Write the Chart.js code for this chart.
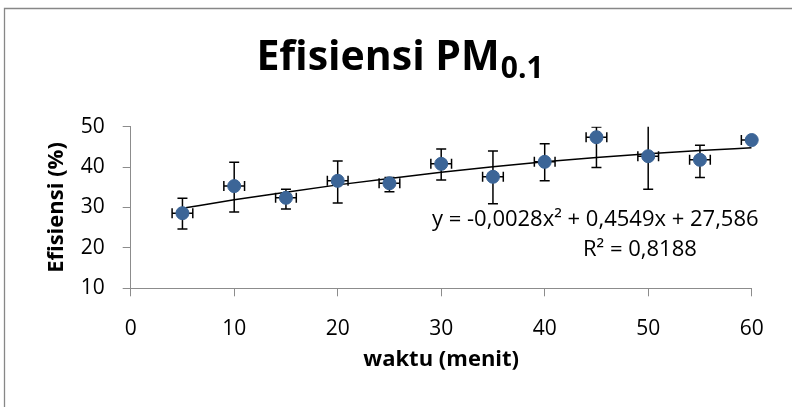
<!DOCTYPE html>
<html>
<head>
<meta charset="utf-8">
<script src="https://cdn.jsdelivr.net/npm/chart.js@4.4.1/dist/chart.umd.min.js"></script>
<style>
html,body{margin:0;padding:0;background:#fff;overflow:hidden}
#wrap{width:792px;height:407px;position:relative}
</style>
</head>
<body>
<div id="wrap"><canvas id="c"></canvas></div>
<script>
// ---- data ----
const waktu      = [5, 10, 15, 20, 25, 30, 35, 40, 45, 50, 55, 60];
const efisiensi  = [28.6, 35.3, 32.4, 36.6, 36.0, 40.8, 37.6, 41.3, 47.4, 42.7, 41.8, 46.7];
const errPlus    = [3.7, 5.9, 2.1, 4.9, 1.4, 3.7, 6.4, 4.5, 2.5, 8.2, 3.6, 0.5];
const errMinus   = [3.9, 6.4, 2.8, 5.5, 2.1, 4.0, 6.7, 4.7, 7.5, 8.2, 4.4, 0.5];
const errWaktu   = [1, 1, 1, 1, 1, 1, 1, 1, 1, 1, 1, 1];
const trendWaktu = [5, 10, 15, 20, 25, 30, 35, 40, 45, 50, 55, 60];
const trendEfis  = [29.8, 31.9, 33.8, 35.6, 37.2, 38.7, 40.1, 41.3, 42.4, 43.3, 44.1, 44.8];
const xTicks     = [0, 10, 20, 30, 40, 50, 60];
const yTicks     = [10, 20, 30, 40, 50];
const titleMain  = 'Efisiensi PM';
const titleSub   = '0.1';
const xTitle     = 'waktu (menit)';
const yTitle     = 'Efisiensi (%)';
const eqLine1    = 'y = -0,0028x² + 0,4549x + 27,586';
const eqLine2    = 'R² = 0,8188';

const FONT = "'Open Sans', sans-serif";
const AXIS_GRAY = '#8c8c8c';

const scatterPts = waktu.map((x, i) => ({x: x, y: efisiensi[i]}));
const trendPts = trendWaktu.map((x, i) => ({x: x, y: trendEfis[i]}));

const errorBars = {
  id: 'errorBars',
  beforeDatasetDraw(chart, args) {
    if (args.index !== 1) return;
    const {ctx, chartArea, scales} = chart;
    const xs = scales.x, ys = scales.y;
    ctx.save();
    ctx.beginPath();
    ctx.rect(chartArea.left, chartArea.top, chartArea.right - chartArea.left, chartArea.bottom - chartArea.top);
    ctx.clip();
    ctx.strokeStyle = '#000';
    ctx.lineWidth = 1.5;
    const cap = 5;
    waktu.forEach((xv, i) => {
      const px = xs.getPixelForValue(xv);
      const py = ys.getPixelForValue(efisiensi[i]);
      const yTop = ys.getPixelForValue(efisiensi[i] + errPlus[i]);
      const yBot = ys.getPixelForValue(efisiensi[i] - errMinus[i]);
      const xL = xs.getPixelForValue(xv - errWaktu[i]);
      const xR = xs.getPixelForValue(xv + errWaktu[i]);
      ctx.beginPath();
      ctx.moveTo(px, yTop); ctx.lineTo(px, yBot);
      ctx.moveTo(px - cap, yTop); ctx.lineTo(px + cap, yTop);
      ctx.moveTo(px - cap, yBot); ctx.lineTo(px + cap, yBot);
      ctx.moveTo(xL, py); ctx.lineTo(xR, py);
      ctx.moveTo(xL, py - cap); ctx.lineTo(xL, py + cap);
      ctx.moveTo(xR, py - cap); ctx.lineTo(xR, py + cap);
      ctx.stroke();
    });
    ctx.restore();
  }
};

const decorations = {
  id: 'decorations',
  beforeDraw(chart) {
    const ctx = chart.ctx;
    ctx.save();
    ctx.fillStyle = '#fff';
    ctx.fillRect(0, 0, chart.width, chart.height);
    ctx.strokeStyle = '#878787';
    ctx.lineWidth = 1.3;
    ctx.beginPath();
    ctx.moveTo(4.5, chart.height + 5);
    ctx.lineTo(4.5, 8.5);
    ctx.lineTo(chart.width + 5, 8.5);
    ctx.stroke();
    ctx.restore();
  },
  afterDraw(chart) {
    const ctx = chart.ctx;
    ctx.save();
    ctx.fillStyle = '#000';
    ctx.textBaseline = 'alphabetic';
    ctx.textAlign = 'left';
    ctx.font = 'bold 41px ' + FONT;
    const wMain = ctx.measureText(titleMain).width;
    ctx.font = 'bold 30px ' + FONT;
    const wSub = ctx.measureText(titleSub).width;
    const startX = 399.5 - (wMain + wSub) / 2;
    ctx.font = 'bold 41px ' + FONT;
    ctx.fillText(titleMain, startX, 70);
    ctx.font = 'bold 30px ' + FONT;
    ctx.fillText(titleSub, startX + wMain + 1, 78);

    ctx.font = '22px ' + FONT;
    ctx.textAlign = 'left';
    ctx.fillText(eqLine1, 432, 226);
    ctx.fillText(eqLine2, 583, 256);
    ctx.restore();
  }
};

new Chart(document.getElementById('c'), {
  type: 'scatter',
  data: {
    datasets: [
      {
        label: 'trend',
        type: 'line',
        data: trendPts,
        borderColor: '#000',
        borderWidth: 1.5,
        pointRadius: 0,
        fill: false,
        tension: 0.4,
        cubicInterpolationMode: 'monotone',
        order: 2
      },
      {
        label: 'Efisiensi',
        data: scatterPts,
        backgroundColor: '#3c6597',
        borderColor: '#3c6597',
        pointRadius: 6.5,
        pointHoverRadius: 6.5,
        clip: false,
        order: 1
      }
    ]
  },
  options: {
    responsive: true,
    maintainAspectRatio: false,
    animation: false,
    events: [],
    layout: { padding: { top: 126.7, right: 40.3, bottom: 25, left: 40 } },
    plugins: { legend: { display: false }, title: { display: false }, tooltip: { enabled: false } },
    scales: {
      x: {
        type: 'linear',
        min: 0, max: 60,
        afterBuildTicks(scale) { scale.ticks = xTicks.map(v => ({value: v})); },
        afterFit(scale) { scale.height = 93.7; },
        grid: { drawOnChartArea: false, drawTicks: true, tickLength: 8, color: AXIS_GRAY },
        border: { display: true, color: AXIS_GRAY, width: 1 },
        ticks: { color: '#000', font: { family: FONT, size: 21 }, padding: 20, maxRotation: 0 },
        title: { display: true, text: xTitle, color: '#000', font: { family: FONT, size: 22, weight: 'bold' }, padding: { top: 0, bottom: 9 } }
      },
      y: {
        type: 'linear',
        min: 10, max: 50,
        afterBuildTicks(scale) { scale.ticks = yTicks.map(v => ({value: v})); },
        afterFit(scale) { scale.width = 90.7; },
        grid: { drawOnChartArea: false, drawTicks: true, tickLength: 8, color: AXIS_GRAY },
        border: { display: true, color: AXIS_GRAY, width: 1 },
        ticks: { color: '#000', font: { family: FONT, size: 21 }, padding: 18 },
        title: { display: true, text: yTitle, color: '#000', font: { family: FONT, size: 22, weight: 'bold' }, padding: { top: 3.5, bottom: 0 } }
      }
    }
  },
  plugins: [decorations, errorBars]
});
</script>
</body>
</html>
